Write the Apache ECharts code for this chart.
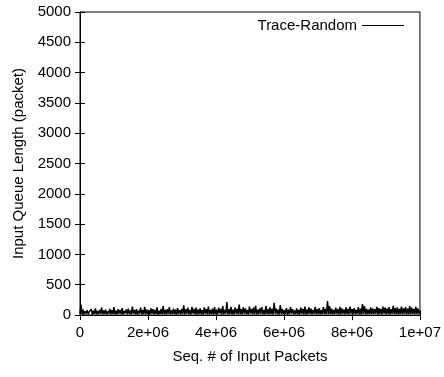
<!DOCTYPE html>
<html>
<head>
<meta charset="utf-8">
<script src="https://cdn.jsdelivr.net/npm/echarts@6/dist/echarts.min.js"></script>
<style>html,body{margin:0;padding:0;background:#fff}#c{width:444px;height:377px}</style>
</head>
<body>
<div id="c"></div>
<script>
var seriesName = 'Trace-Random';
var xMax = 10000000;
var xTicks = [0, 2000000, 4000000, 6000000, 8000000, 10000000];
var xTickLabels = ['0', '2e+06', '4e+06', '6e+06', '8e+06', '1e+07'];
var yTicks = [0, 500, 1000, 1500, 2000, 2500, 3000, 3500, 4000, 4500, 5000];
var queueLength = [
20,170,15,90,10,60,25,80,12,55,30,95,8,70,20,110,15,65,10,85,22,120,14,75,18,90,9,60,25,100,12,80,20,130,15,70,10,95,24,85,16,115,11,65,28,90,13,105,19,75,
10,140,22,85,14,95,8,70,26,120,12,80,18,135,15,90,20,75,11,110,25,95,13,85,17,125,9,70,21,100,14,145,16,85,10,95,23,130,12,75,19,105,15,90,8,115,24,80,13,100,
18,160,11,95,22,120,14,85,9,135,25,100,16,120,12,90,20,110,15,80,10,125,23,95,17,140,13,85,21,105,8,130,19,90,14,120,26,100,11,145,16,85,22,215,12,95,18,135,
15,90,10,120,24,100,13,170,19,95,11,130,22,110,16,85,9,140,25,100,14,120,20,150,12,90,17,110,23,130,15,85,10,150,21,95,13,125,18,100,11,200,24,105,16,90,12,165,
19,100,14,80,22,115,10,90,17,130,25,95,13,75,20,110,15,85,11,120,23,100,16,140,12,90,18,125,21,105,9,85,24,135,14,95,19,115,11,80,22,130,15,100,17,230,13,145,
20,105,12,85,18,120,24,95,10,135,16,110,22,90,14,125,19,100,11,140,25,95,13,115,17,85,21,130,15,105,9,180,23,145,12,100,18,90,16,125,20,110,14,95,22,135,11,115,
19,100,15,140,24,120,13,105,17,130,10,95,22,150,16,115,20,125,12,100,18,140,14,110,23,130,11,105,19,145,15,120,21,100,13,135,17,110,25,60
];

var N = queueLength.length;
var points = queueLength.map(function (v, i) { return [i * xMax / (N - 1), v]; });

var font = 'Liberation Sans, Arial, sans-serif';
var fs = 15;
function xFmt(v) { var i = xTicks.indexOf(v); return i >= 0 ? xTickLabels[i] : ''; }
function yFmt(v) { return yTicks.indexOf(v) >= 0 ? String(v) : ''; }

var chart = echarts.init(document.getElementById('c'), null, {renderer: 'canvas'});
chart.setOption({
  animation: false,
  backgroundColor: '#fff',
  textStyle: {fontFamily: font},
  grid: {left: 80, right: 22, top: 12, bottom: 62, show: true, borderColor: '#000', borderWidth: 1},
  legend: {
    show: true, orient: 'horizontal',
    data: [{name: seriesName, icon: 'rect'}], right: 35, top: 13, align: 'right',
    itemWidth: 42, itemHeight: 1, itemGap: 8,
    textStyle: {fontFamily: font, fontSize: fs, color: '#000'}
  },
  xAxis: [{
    type: 'value', min: 0, max: xMax, interval: 2000000,
    name: 'Seq. # of Input Packets', nameLocation: 'middle', nameGap: 34,
    nameTextStyle: {fontFamily: font, fontSize: fs, color: '#000'},
    axisLine: {show: true, lineStyle: {color: '#000', width: 1}},
    axisTick: {show: true, inside: true, length: 5, lineStyle: {color: '#000'}},
    axisLabel: {formatter: xFmt, fontFamily: font, fontSize: fs, color: '#000', margin: 10},
    splitLine: {show: false}
  }, {
    type: 'value', position: 'top', min: 0, max: xMax, interval: 2000000,
    axisLine: {show: true, lineStyle: {color: '#000', width: 1}},
    axisTick: {show: true, inside: true, length: 5, lineStyle: {color: '#000'}},
    axisLabel: {show: false}, splitLine: {show: false}
  }],
  yAxis: [{
    type: 'value', min: 0, max: 5000, interval: 500,
    name: 'Input Queue Length (packet)', nameLocation: 'middle', nameGap: 52,
    nameTextStyle: {fontFamily: font, fontSize: fs, color: '#000'},
    axisLine: {show: true, lineStyle: {color: '#000', width: 1}},
    axisTick: {show: true, inside: true, length: 5, lineStyle: {color: '#000'}},
    axisLabel: {formatter: yFmt, fontFamily: font, fontSize: fs, color: '#000', margin: 9},
    splitLine: {show: false}
  }, {
    type: 'value', position: 'right', min: 0, max: 5000, interval: 500,
    axisLine: {show: true, lineStyle: {color: '#000', width: 1}},
    axisTick: {show: true, inside: true, length: 5, lineStyle: {color: '#000'}},
    axisLabel: {show: false}, splitLine: {show: false}
  }],
  series: [{
    name: seriesName, type: 'line', data: points, xAxisIndex: 0, yAxisIndex: 0,
    showSymbol: false, symbol: 'none',
    lineStyle: {color: '#000', width: 1.5}, itemStyle: {color: '#000'}
  }]
});
</script>
</body>
</html>
